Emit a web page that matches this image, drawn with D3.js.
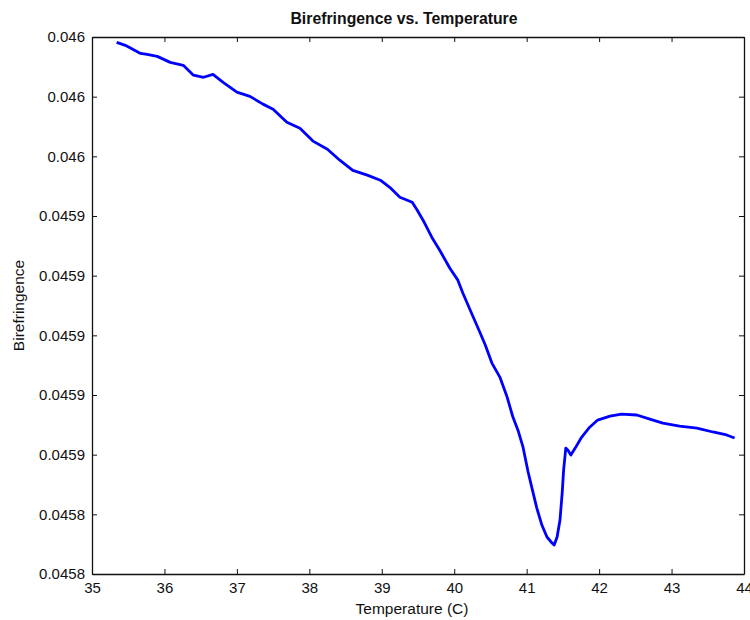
<html>
<head>
    <script src="https://cdn.jsdelivr.net/npm/d3@7/dist/d3.min.js"></script>
    <style>
        body { margin: 0; background: #fff; }
        text { font-family: "Liberation Sans", Arial, sans-serif; fill: #111; }
        .domain, .tick line { stroke: #111; }
    </style>
</head>
<body>
    <script>

        // core settings - window is 750 x 620
        // (don't call these 'top' etc, window.top is read-only)
        var width = 750, height = 620;
        var plotLeft = 92, plotRight = 744, plotTop = 37, plotBottom = 574;

        // temperature readings (C)
        var temperature = [
            35.34, 35.46, 35.67, 35.76, 35.90, 36.08, 36.26, 36.40, 36.54, 36.67,
            36.81, 37.00, 37.18, 37.36, 37.50, 37.69, 37.87, 38.05, 38.25, 38.42,
            38.60, 38.80, 38.98, 39.11, 39.25, 39.42, 39.49, 39.57, 39.69, 39.80,
            39.94, 40.05, 40.12, 40.25, 40.36, 40.43, 40.52, 40.63, 40.73, 40.81,
            40.88, 40.95, 41.02, 41.07, 41.14, 41.21, 41.28, 41.35, 41.38, 41.42,
            41.46, 41.49, 41.51, 41.54, 41.57, 41.61, 41.67, 41.76, 41.87, 41.98,
            42.15, 42.31, 42.52, 42.70, 42.88, 43.11, 43.35, 43.57, 43.76, 43.87
        ];

        // birefringence for each temperature above
        var birefringence = [
            0.0459982, 0.0459972, 0.0459945, 0.0459942, 0.0459935, 0.0459915, 0.0459905, 0.0459872, 0.0459865, 0.0459875,
            0.0459848, 0.0459815, 0.0459801, 0.0459775, 0.0459758, 0.0459714, 0.0459694, 0.0459651, 0.0459624, 0.0459587,
            0.0459553, 0.0459537, 0.0459520, 0.0459496, 0.0459463, 0.0459446, 0.0459419, 0.0459386, 0.0459329, 0.0459285,
            0.0459225, 0.0459185, 0.0459141, 0.0459068, 0.0459007, 0.0458967, 0.0458907, 0.0458860, 0.0458793, 0.0458726,
            0.0458682, 0.0458625, 0.0458542, 0.0458491, 0.0458421, 0.0458364, 0.0458324, 0.0458304, 0.0458297, 0.0458324,
            0.0458381, 0.0458471, 0.0458548, 0.0458622, 0.0458615, 0.0458599, 0.0458622, 0.0458659, 0.0458692, 0.0458716,
            0.0458729, 0.0458736, 0.0458733, 0.0458719, 0.0458706, 0.0458696, 0.0458689, 0.0458676, 0.0458666, 0.0458656
        ];

        // tick values and the (rounded) labels the original plot shows
        var xTicks = [35, 36, 37, 38, 39, 40, 41, 42, 43, 44];
        var yTicks = [0.04582, 0.04584, 0.04586, 0.04588, 0.04590, 0.04592, 0.04594, 0.04596, 0.04598, 0.04600];
        var yTickLabels = ["0.0458", "0.0458", "0.0459", "0.0459", "0.0459",
                           "0.0459", "0.0459", "0.046", "0.046", "0.046"];

        var data = temperature.map(function (t, i) {
            return { t: t, b: birefringence[i] };
        });

        var svg = d3.select("body")
            .append("svg")
            .attr("width", width)
            .attr("height", height);

        var x = d3.scaleLinear()
            .domain([35, 44])
            .range([plotLeft, plotRight]);

        var y = d3.scaleLinear()
            .domain([0.04582, 0.04600])
            .range([plotBottom, plotTop]);

        /*
         * the trace
         */
        var line = d3.line()
            .x(function (d) { return x(d.t); })
            .y(function (d) { return y(d.b); });

        svg.append("path")
            .datum(data)
            .attr("d", line)
            .attr("fill", "none")
            .attr("stroke", "#0000ff")
            .attr("stroke-width", 2.8)
            .attr("stroke-linejoin", "round");

        /*
         * axes - ticks point inward, box on all four sides
         */
        var xAxis = d3.axisBottom(x)
            .tickValues(xTicks)
            .tickSizeInner(-5).tickSizeOuter(0)
            .tickPadding(8)
            .tickFormat(d3.format("d"));

        svg.append("g")
            .attr("transform", "translate(0," + plotBottom + ")")
            .call(xAxis);

        svg.append("g")
            .attr("transform", "translate(0," + plotTop + ")")
            .call(d3.axisTop(x).tickValues(xTicks).tickSizeInner(-5).tickSizeOuter(0).tickFormat(""));

        var yAxis = d3.axisLeft(y)
            .tickValues(yTicks)
            .tickSizeInner(-5).tickSizeOuter(0)
            .tickPadding(7)
            .tickFormat(function (d, i) { return yTickLabels[i]; });

        svg.append("g")
            .attr("transform", "translate(" + plotLeft + ",0)")
            .call(yAxis);

        svg.append("g")
            .attr("transform", "translate(" + plotRight + ",0)")
            .call(d3.axisRight(y).tickValues(yTicks).tickSizeInner(-5).tickSizeOuter(0).tickFormat(""));

        svg.selectAll(".tick text")
            .attr("font-size", 15)
            .attr("font-family", "Liberation Sans, Arial, sans-serif")
            .attr("fill", "#111");

        svg.selectAll(".domain").attr("stroke-width", 1.3);

        // title and axis labels
        svg.append("text")
            .attr("x", 404).attr("y", 24)
            .attr("text-anchor", "middle")
            .attr("font-size", 15.8)
            .attr("font-weight", "bold")
            .text("Birefringence vs. Temperature");

        svg.append("text")
            .attr("x", 412).attr("y", 614)
            .attr("text-anchor", "middle")
            .attr("font-size", 15.5)
            .text("Temperature (C)");

        svg.append("text")
            .attr("transform", "translate(24," + ((plotTop + plotBottom) / 2) + ") rotate(-90)")
            .attr("text-anchor", "middle")
            .attr("font-size", 15.5)
            .text("Birefringence");

    </script>
</body>
</html>
